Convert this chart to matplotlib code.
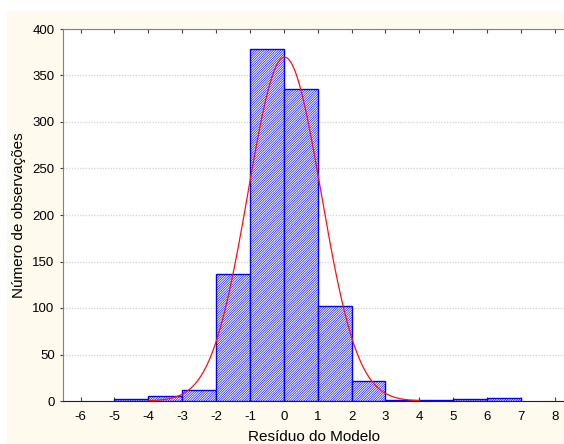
import numpy as np
import matplotlib.pyplot as plt
from matplotlib.patches import Rectangle

plt.rcParams['font.family'] = ['Liberation Sans', 'DejaVu Sans']
plt.rcParams['axes.unicode_minus'] = False
plt.rcParams['hatch.linewidth'] = 0.45
plt.rcParams['hatch.color'] = '#0000ff'

# histogram of model residuals (bin left edges, width 1)
bin_left = [-5, -4, -3, -2, -1, 0, 1, 2, 3, 4, 5, 6]
counts = [2, 5, 12, 137, 378, 335, 102, 21, 1, 1, 2, 3]
# fitted normal curve
mu = 0.02
sigma = 1.078
n_obs = 999
xticks = list(range(-6, 9))
yticks = list(range(0, 401, 50))

fig = plt.figure(figsize=(5.64, 4.44), dpi=100, facecolor='white')
fig.patches.append(Rectangle((7 / 564, 0), 1, 1 - 11 / 444, transform=fig.transFigure,
                             facecolor='#fffaee', edgecolor='none', zorder=-1))
ax = fig.add_axes([63 / 564, 1 - 401 / 444, 1 - 63 / 564, (401 - 29) / 444])
ax.set_facecolor('white')

ax.bar(bin_left, counts, width=1, align='edge', facecolor='white', edgecolor='#0000ff',
       hatch='/' * 14, linewidth=1.0, zorder=3)

xs = np.linspace(-4, 4, 300)
ys = n_obs * 1.0 / (sigma * np.sqrt(2 * np.pi)) * np.exp(-0.5 * ((xs - mu) / sigma) ** 2)
ax.plot(xs, ys, color='#ff1010', linewidth=0.9, zorder=4)

ax.set_xlim(-6.52, 8.27)
ax.set_ylim(0, 400)
ax.set_xticks(xticks)
ax.set_yticks(yticks)
ax.yaxis.grid(True, linestyle=(0, (1, 1)), color='#d8d8d8', linewidth=1.0)
ax.set_axisbelow(True)

ax.spines['right'].set_visible(False)
ax.spines['left'].set_color('#808080')
ax.spines['top'].set_color('#808080')
ax.spines['bottom'].set_color('#202020')
ax.tick_params(axis='x', direction='in', top=True, length=3, labelsize=9.5, pad=7, color='#404040')
ax.tick_params(axis='y', direction='out', length=2, labelsize=9.5, pad=4, color='#404040')

ax.set_xlabel('Resíduo do Modelo', fontsize=11)
ax.set_ylabel('Número de observações', fontsize=11)
ax.xaxis.set_label_coords(0.5, -0.078)
ax.yaxis.set_label_coords(-0.074, 0.5)

fig.savefig('out.png', dpi=100, facecolor=fig.get_facecolor())
